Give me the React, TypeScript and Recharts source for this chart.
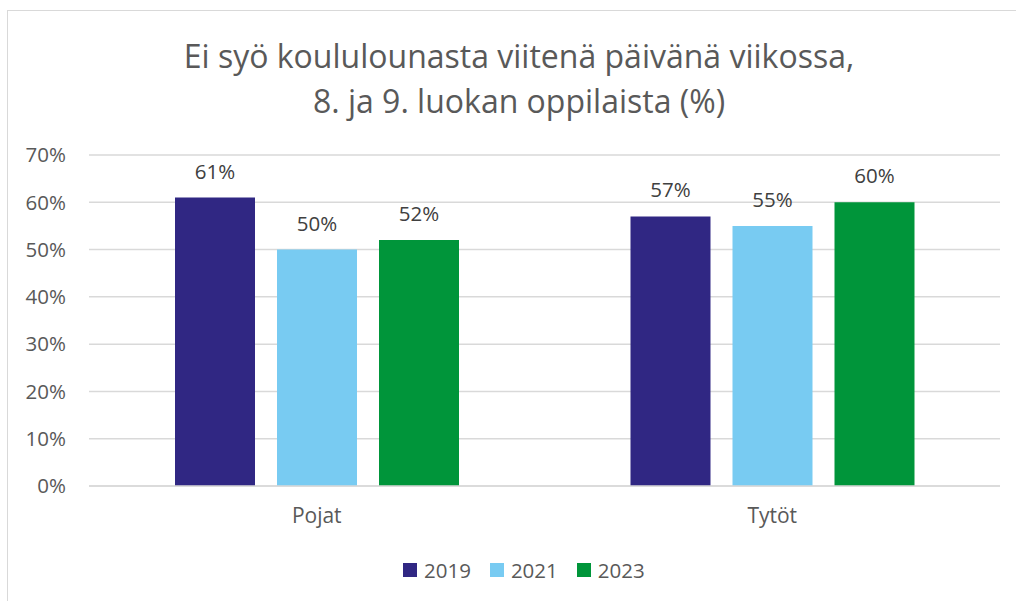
import React from "react";
import { Bar, BarChart, CartesianGrid, LabelList, Legend, XAxis, YAxis } from "recharts";

const groups = ["Pojat", "Tytöt"];
const years = ["2019", "2021", "2023"];
const values2019 = [61, 57];
const values2021 = [50, 55];
const values2023 = [52, 60];
const yTicks = [0, 10, 20, 30, 40, 50, 60, 70];
const titleLines = ["Ei syö koululounasta viitenä päivänä viikossa,", "8. ja 9. luokan oppilaista (%)"];

const colors = ["#302783", "#78cbf2", "#00953a"];
const font = "'Open Sans', sans-serif";

const data = groups.map((group, i) => ({
  group,
  "2019": values2019[i],
  "2021": values2021[i],
  "2023": values2023[i],
}));

function LegendContent() {
  return (
    <div
      style={{
        height: 55,
        boxSizing: "border-box",
        paddingTop: 13,
        paddingLeft: 395,
        display: "flex",
        alignItems: "center",
        fontFamily: font,
        fontSize: 20.5,
        color: "#595959",
      }}
    >
      {years.map((year, i) => (
        <div key={year} style={{ display: "flex", alignItems: "center", marginRight: 19 }}>
          <span style={{ width: 14, height: 14, background: colors[i], marginRight: 7 }} />
          <span>{year}</span>
        </div>
      ))}
    </div>
  );
}

export default function App() {
  return (
    <div
      style={{
        position: "fixed",
        left: 0,
        top: 0,
        width: 1016,
        height: 601,
        overflow: "hidden",
        background: "#fff",
      }}
    >
      <div
        style={{
          position: "absolute",
          left: 7,
          top: 10,
          width: 1030,
          height: 620,
          border: "1px solid #d9d9d9",
          boxSizing: "border-box",
        }}
      >
        <div
          style={{
            position: "absolute",
            left: 0,
            top: 22,
            width: 1022,
            textAlign: "center",
            fontFamily: font,
            fontSize: 32,
            lineHeight: "45px",
            color: "#595959",
          }}
        >
          {titleLines.map((line) => (
            <div key={line}>{line}</div>
          ))}
        </div>
        <BarChart
          width={1008}
          height={590}
          data={data}
          margin={{ top: 144, right: 16, bottom: 10, left: 0 }}
          barSize={80}
          barGap={22}
        >
          <CartesianGrid vertical={false} stroke="#d9d9d9" strokeWidth={1.5} />
          <XAxis
            dataKey="group"
            height={50}
            tickLine={false}
            tickSize={0}
            tickMargin={22}
            axisLine={{ stroke: "#d9d9d9", strokeWidth: 1.5 }}
            tick={{ fill: "#595959", fontSize: 21, fontFamily: font }}
          />
          <YAxis
            width={81}
            domain={[0, 70]}
            ticks={yTicks}
            tickFormatter={(v) => `${v}%`}
            axisLine={false}
            tickLine={false}
            tickSize={0}
            tickMargin={23}
            tick={{ fill: "#595959", fontSize: 20.5, fontFamily: font }}
          />
          <Legend
            verticalAlign="bottom"
            content={<LegendContent />}
            wrapperStyle={{ left: 0, width: 1008, height: 55 }}
          />
          {years.map((year, i) => (
            <Bar key={year} dataKey={year} fill={colors[i]} isAnimationActive={false}>
              <LabelList
                dataKey={year}
                position="top"
                offset={19}
                formatter={(v: number) => `${v}%`}
                style={{ fill: "#404040", fontSize: 20.5, fontFamily: font }}
              />
            </Bar>
          ))}
        </BarChart>
      </div>
    </div>
  );
}
